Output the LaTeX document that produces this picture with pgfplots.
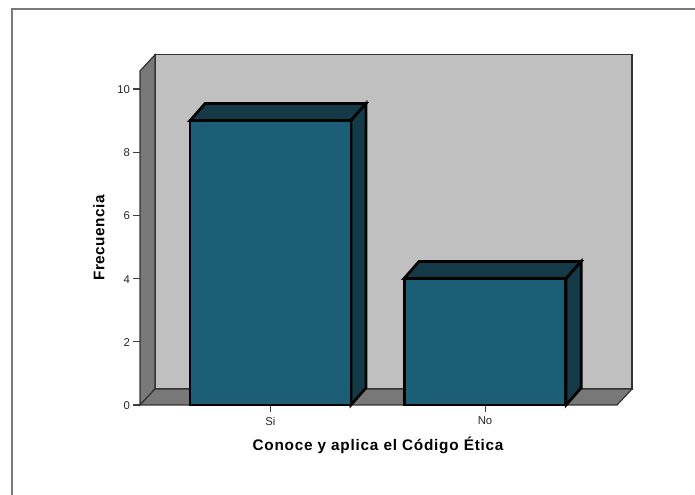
\documentclass[border=0pt]{standalone}
\usepackage{pgfplots}
\pgfplotsset{compat=1.18}
\usepackage{fontspec}
\setmainfont{Liberation Sans}
\definecolor{wallback}{HTML}{C0C0C0}
\definecolor{wallside}{HTML}{787878}
\definecolor{barfront}{HTML}{1C5E76}
\definecolor{barshade}{HTML}{143A47}
\definecolor{framegray}{HTML}{7A7A7A}
\begin{document}
\begin{tikzpicture}
\useasboundingbox (0,0) rectangle (521.25pt,371.25pt);
% outer chart frame: top and left edges only
\draw[framegray,line width=1pt] (9pt,0pt) -- (9pt,364.5pt) -- (521.25pt,364.5pt);
\begin{axis}[
  at={(105pt,67.5pt)}, anchor=south west,
  scale only axis, width=357.75pt, height=250.5pt,
  xmin=-0.608, xmax=1.615, ymin=0, ymax=10.57,
  clip=false,
  axis line style={draw=none},
  xtick={0,1}, xticklabels={Si,No},
  ytick={0,2,4,6,8,10},
  xtick pos=bottom, ytick pos=left, tick align=outside,
  major tick length=5pt,
  tick style={draw=black!75, line width=0.8pt},
  /pgf/number format/assume math mode=true,
  tick label style={font=\fontsize{8.5}{10}\selectfont, text=black!85},
  xticklabel style={yshift=-0.5pt},
  yticklabel style={xshift=1pt, yshift=-0.5pt},
  every axis x label/.style={at={(axis description cs:0.499,-0.12)},anchor=center},
  every axis y label/.style={at={(axis description cs:-0.086,0.5)},rotate=90,anchor=center},
  label style={font=\fontsize{11.5}{13}\selectfont\bfseries},
  xlabel={\addfontfeature{LetterSpace=5}Conoce y aplica el Código Ética},
  ylabel={\addfontfeature{LetterSpace=3}Frecuencia},
]
% back wall, left wall and floor of the box
\addplot[fill=wallback, draw=black!80, line width=0.9pt] coordinates {(-0.5385,0.506) (1.685,0.506) (1.685,11.08) (-0.5385,11.08)} --cycle;
\addplot[fill=wallside, draw=black!80, line width=0.9pt] coordinates {(-0.608,0) (-0.5385,0.506) (-0.5385,11.08) (-0.608,10.57)} --cycle;
\addplot[fill=wallside, draw=black!80, line width=0.9pt] coordinates {(-0.608,0) (1.615,0) (1.685,0.506) (-0.5385,0.506)} --cycle;
% bar for "Si": top and side faces, then the front
\addplot[fill=barshade, draw=black, line width=2pt, miter limit=10] coordinates {(-0.375,9) (0.375,9) (0.445,9.54) (-0.305,9.54)} --cycle;
\addplot[fill=barshade, draw=black, line width=2pt, miter limit=10] coordinates {(0.375,0) (0.445,0.54) (0.445,9.54) (0.375,9)} --cycle;
% bar for "No": top and side faces, then the front
\addplot[fill=barshade, draw=black, line width=2pt, miter limit=10] coordinates {(0.622,4) (1.378,4) (1.448,4.54) (0.692,4.54)} --cycle;
\addplot[fill=barshade, draw=black, line width=2pt, miter limit=10] coordinates {(1.378,0) (1.448,0.54) (1.448,4.54) (1.378,4)} --cycle;
% front faces carry the frequencies
\addplot[ybar, bar shift=0pt, bar width=120.75pt, fill=barfront, draw=black, line width=2pt] coordinates {(0,9) (1,4)};
\end{axis}
\end{tikzpicture}
\end{document}
